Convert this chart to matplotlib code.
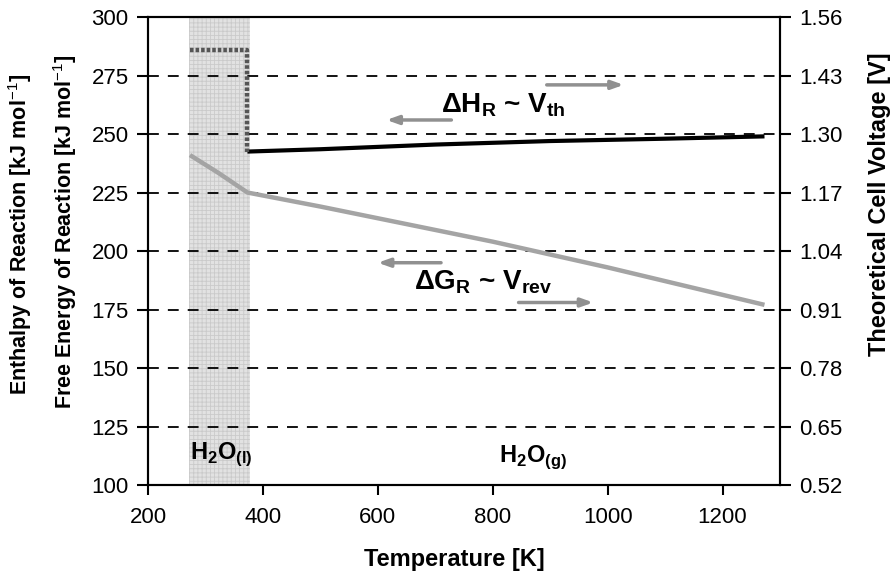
import matplotlib
matplotlib.use('Agg')
import matplotlib.pyplot as plt
import numpy as np

plt.rcParams['font.family'] = ['Liberation Sans', 'DejaVu Sans']
plt.rcParams['mathtext.fontset'] = 'custom'
plt.rcParams['mathtext.rm'] = 'Liberation Sans'
plt.rcParams['mathtext.bf'] = 'Liberation Sans:bold'
plt.rcParams['hatch.linewidth'] = 0.6

# data
T_liq = [273, 373, 373]
dH_liq = [286, 286, 242.5]
T_gas = [373, 500, 700, 900, 1100, 1273]
dH_gas = [242.5, 243.5, 245.5, 247, 248, 249]
T_G = [273, 323, 373, 500, 600, 800, 1000, 1273]
dG = [241, 233.3, 225, 219, 214, 204, 193, 177]

left_ticks = [100, 125, 150, 175, 200, 225, 250, 275, 300]
right_ticks = [0.52, 0.65, 0.78, 0.91, 1.04, 1.17, 1.30, 1.43, 1.56]
x_ticks = [200, 400, 600, 800, 1000, 1200]
liquid_range = [272, 378]

fig = plt.figure(figsize=(8.95, 5.77), dpi=100)
ax = fig.add_axes([0.1654, 0.1594, 0.7061, 0.8111])

ax.axvspan(liquid_range[0], liquid_range[1], facecolor='#e2e2e2', edgecolor='#cacaca',
           hatch='++++', linewidth=0, zorder=1)

ax.plot(T_G, dG, color='#a4a4a4', lw=3.2, solid_capstyle='butt', zorder=3)
ax.plot(T_gas, dH_gas, color='black', lw=3.0, solid_capstyle='butt', zorder=4)
ax.plot(T_liq, dH_liq, color='#555555', lw=3.2, linestyle=(0, (0.8, 0.45)), zorder=4)

ax.set_xlim(200, 1300)
ax.set_ylim(100, 300)
ax.set_xticks(x_ticks)
ax.set_yticks(left_ticks)
for yv in left_ticks[1:-1]:
    ax.axhline(yv, color='black', lw=1.3, linestyle=(0, (6, 5)), zorder=2)

ax.tick_params(axis='x', direction='out', length=7, width=1.5, labelsize=16, pad=9)
ax.tick_params(axis='y', direction='out', length=8, width=1.5, labelsize=16, pad=6)
for s in ax.spines.values():
    s.set_linewidth(1.5)

ax2 = ax.twinx()
ax2.set_ylim(0.52, 1.56)
ax2.set_yticks(right_ticks)
ax2.set_yticklabels(['%.2f' % v for v in right_ticks])
ax2.tick_params(axis='y', direction='out', length=8, width=1.5, labelsize=16, pad=6)
for s in ax2.spines.values():
    s.set_linewidth(1.5)

# annotations
ax.text(819, 262.4, r'ΔH$_\mathbf{R}$ ~ V$_\mathbf{th}$', fontsize=20, fontweight='bold',
        ha='center', va='center', zorder=5)
ax.text(784, 186.8, r'ΔG$_\mathbf{R}$ ~ V$_\mathbf{rev}$', fontsize=20, fontweight='bold',
        ha='center', va='center', zorder=5)
ax.text(328, 113, r'H$_\mathbf{2}$O$_\mathbf{(l)}$', fontsize=17, fontweight='bold',
        ha='center', va='center', zorder=5)
ax.text(871, 112, r'H$_\mathbf{2}$O$_\mathbf{(g)}$', fontsize=17, fontweight='bold',
        ha='center', va='center', zorder=5)

arrows = [((728, 256), (615, 256)), ((894, 271), (1028, 271)),
          ((710, 195), (600, 195)), ((845, 178), (975, 178))]
for start, end in arrows:
    ax.annotate('', xy=end, xytext=start,
                arrowprops=dict(arrowstyle='-|>,head_length=0.7,head_width=0.25',
                                color='#909090', lw=2.5, shrinkA=0, shrinkB=0), zorder=5)

fig.text(0.508, 0.031, 'Temperature [K]', fontsize=17, fontweight='bold', ha='center', va='center')
fig.text(0.022, 0.593, r'Enthalpy of Reaction [kJ mol$^\mathrm{-1}$]', fontsize=15.5,
         fontweight='bold', rotation=90, ha='center', va='center')
fig.text(0.073, 0.598, r'Free Energy of Reaction [kJ mol$^\mathrm{-1}$]', fontsize=15.5,
         fontweight='bold', rotation=90, ha='center', va='center')
fig.text(0.983, 0.646, 'Theoretical Cell Voltage [V]', fontsize=17, fontweight='bold',
         rotation=90, ha='center', va='center')

fig.savefig('out.png', dpi=100)
